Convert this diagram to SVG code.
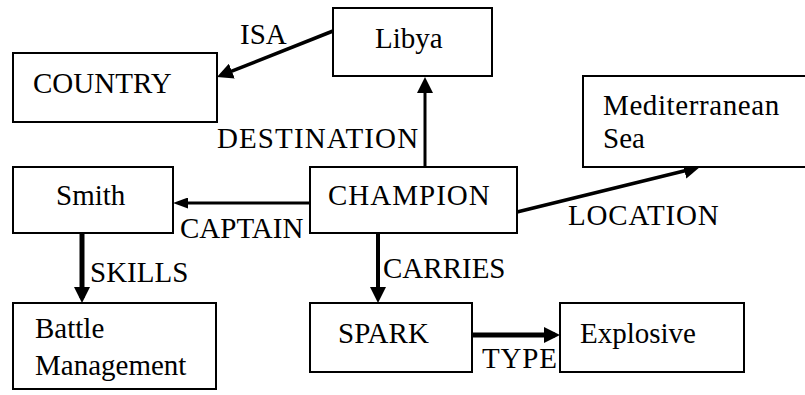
<svg xmlns="http://www.w3.org/2000/svg" width="805" height="395" viewBox="0 0 805 395">
  <defs>
    <marker id="head" viewBox="0 0 16 16" markerWidth="16" markerHeight="16" refX="11" refY="8" orient="auto" markerUnits="userSpaceOnUse">
      <path d="M0,0 L16,8 L0,16 z" fill="#000000"/>
    </marker>
    <marker id="headSmall" viewBox="0 0 15 11" markerWidth="15" markerHeight="11" refX="10" refY="5.5" orient="auto" markerUnits="userSpaceOnUse">
      <path d="M0,0 L15,5.5 L0,11 z" fill="#000000"/>
    </marker>
  </defs>

  <rect width="805" height="395" fill="#ffffff"/>

  <g font-size="29" fill="#000000">
  <!-- connectors: thick black lines with solid heads, plus their labels -->
  <g id="connectors">
    <g fill="none" stroke="#000000">
      <line x1="333" y1="31" x2="221.6" y2="75.2" stroke-width="3.5" marker-end="url(#head)"/>
      <line x1="425" y1="167" x2="425" y2="82" stroke-width="3" marker-end="url(#head)"/>
      <line x1="310" y1="203" x2="178" y2="203" stroke-width="3" marker-end="url(#headSmall)"/>
      <line x1="517" y1="212" x2="695.1" y2="168.2" stroke-width="3.5" marker-end="url(#head)"/>
      <line x1="82" y1="233" x2="82" y2="298" stroke-width="5" marker-end="url(#head)"/>
      <line x1="378" y1="233" x2="378" y2="298" stroke-width="4" marker-end="url(#head)"/>
      <line x1="472" y1="335" x2="555" y2="335" stroke-width="5" marker-end="url(#head)"/>
    </g>
    <text x="240" y="44" font-family="'Liberation Serif'">ISA</text>
    <text x="217" y="148" font-family="'Liberation Serif'" letter-spacing="1.1">DESTINATION</text>
    <text x="180" y="238" font-family="'Liberation Serif'">CAPTAIN</text>
    <text x="568" y="225" font-family="'Liberation Serif'" letter-spacing="0.8">LOCATION</text>
    <text x="90" y="282" font-family="'Liberation Serif'">SKILLS</text>
    <text x="383" y="278" font-family="'Liberation Serif'">CARRIES</text>
    <text x="482" y="368" font-family="'Liberation Serif'" letter-spacing="0.8">TYPE</text>
  </g>

  <!-- nodes: plain outlined boxes -->
  <g id="country">
    <rect x="13" y="53" width="204" height="69" fill="#ffffff" stroke="#000000" stroke-width="2"/>
    <text x="33" y="93" font-family="'Liberation Serif'">COUNTRY</text>
  </g>
  <g id="libya">
    <rect x="333" y="8" width="159" height="68" fill="#ffffff" stroke="#000000" stroke-width="2"/>
    <text x="375" y="48" font-family="'Liberation Serif'">Libya</text>
  </g>
  <g id="mediterranean-sea">
    <rect x="583" y="76" width="230" height="91" fill="#ffffff" stroke="#000000" stroke-width="2"/>
    <text x="603" y="115" font-family="'Liberation Serif'" letter-spacing="0.6">Mediterranean</text>
    <text x="603" y="148" font-family="'Liberation Serif'">Sea</text>
  </g>
  <g id="smith">
    <rect x="13" y="167" width="160" height="66" fill="#ffffff" stroke="#000000" stroke-width="2"/>
    <text x="56" y="205" font-family="'Liberation Serif'">Smith</text>
  </g>
  <g id="champion">
    <rect x="310" y="167" width="207" height="66" fill="#ffffff" stroke="#000000" stroke-width="2"/>
    <text x="328" y="205" font-family="'Liberation Serif'" letter-spacing="1">CHAMPION</text>
  </g>
  <g id="battle-management">
    <rect x="13" y="303" width="203" height="86" fill="#ffffff" stroke="#000000" stroke-width="2"/>
    <text x="35" y="338" font-family="'Liberation Serif'">Battle</text>
    <text x="35" y="375" font-family="'Liberation Serif'">Management</text>
  </g>
  <g id="spark">
    <rect x="310" y="303" width="162" height="69" fill="#ffffff" stroke="#000000" stroke-width="2"/>
    <text x="338" y="343" font-family="'Liberation Serif'">SPARK</text>
  </g>
  <g id="explosive">
    <rect x="560" y="303" width="184" height="69" fill="#ffffff" stroke="#000000" stroke-width="2"/>
    <text x="580" y="343" font-family="'Liberation Serif'">Explosive</text>
  </g>
  </g>
</svg>
